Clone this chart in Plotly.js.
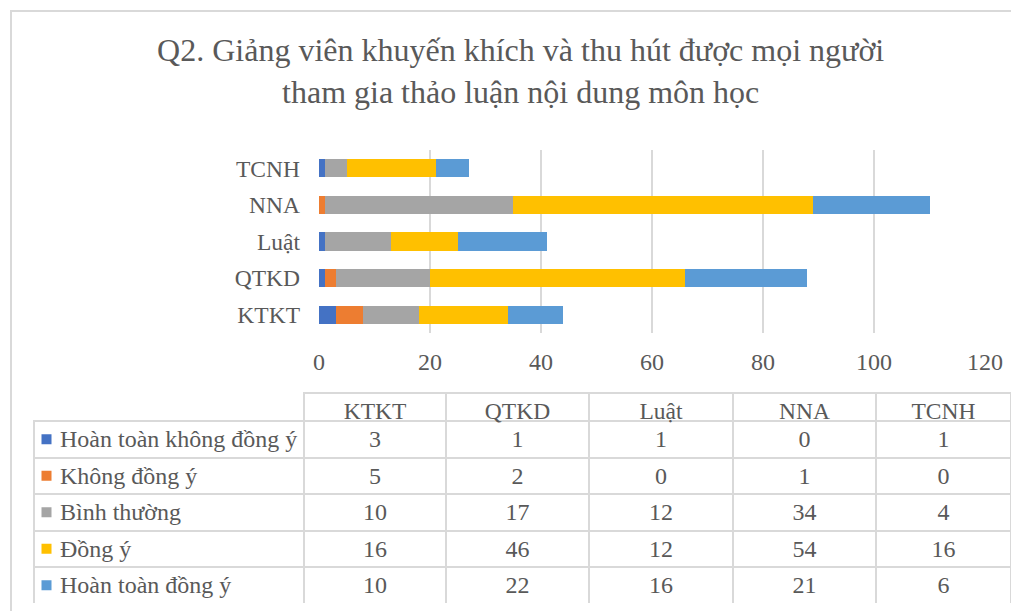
<!DOCTYPE html>
<html>
<head>
<meta charset="utf-8">
<script src="https://cdn.plot.ly/plotly-3.0.1.min.js"></script>
<style>html,body{margin:0;padding:0;background:#fff;}#chart{width:1011px;height:611px;}</style>
</head>
<body>
<div id="chart"></div>
<script>
const categories = ['KTKT', 'QTKD', 'Luật', 'NNA', 'TCNH'];
const seriesNames = ['Hoàn toàn không đồng ý', 'Không đồng ý', 'Bình thường', 'Đồng ý', 'Hoàn toàn đồng ý'];
const hoanToanKhongDongY = [3, 1, 1, 0, 1];
const khongDongY = [5, 2, 0, 1, 0];
const binhThuong = [10, 17, 12, 34, 4];
const dongY = [16, 46, 12, 54, 16];
const hoanToanDongY = [10, 22, 16, 21, 6];
const seriesValues = [hoanToanKhongDongY, khongDongY, binhThuong, dongY, hoanToanDongY];
const seriesColors = ['#4472C4', '#ED7D31', '#A5A5A5', '#FFC000', '#5B9BD5'];
const xTicks = [0, 20, 40, 60, 80, 100, 120];
const titleText = 'Q2. Giảng viên khuyến khích và thu hút được mọi người<br>tham gia thảo luận nội dung môn học';

const FONT = 'Liberation Serif';
const TXT = '#595959';
const W = 1011, H = 611;
const px = v => v / W;
const py = v => 1 - v / H;

const traces = seriesNames.map((name, i) => ({
  type: 'bar',
  orientation: 'h',
  name: name,
  y: categories,
  x: seriesValues[i],
  marker: { color: seriesColors[i], line: { width: 0 } },
  hoverinfo: 'x+name'
}));

// legend keys of the data table (on a hidden overlay axis)
traces.push({
  type: 'scatter',
  mode: 'markers',
  xaxis: 'x2', yaxis: 'y2',
  x: seriesNames.map(() => 0),
  y: seriesNames,
  marker: { symbol: 'square', size: 10, color: seriesColors, line: { width: 0 } },
  hoverinfo: 'skip'
});

// data table below the chart
const nb = '\u00a0';
const rowLabels = seriesNames.map(n => nb + nb + nb + n.split(' ').join(nb));
const tableColumns = [rowLabels].concat(categories.map((c, ci) => seriesValues.map(s => s[ci])));
const headerVals = [''].concat(categories);
const lineCol = '#d9d9d9';
const clear = 'rgba(255,255,255,0)';

traces.push({
  type: 'table',
  domain: { x: [px(34), 1], y: [py(604), py(393)] },
  columnwidth: [270, 142, 143, 144, 143, 135],
  header: {
    values: headerVals,
    height: 28,
    align: 'center',
    line: { color: [clear, lineCol, lineCol, lineCol, lineCol, lineCol], width: 2 },
    fill: { color: clear },
    font: { family: FONT, size: 23.5, color: TXT }
  },
  cells: {
    values: tableColumns,
    height: 36.5,
    align: ['left', 'center', 'center', 'center', 'center', 'center'],
    line: { color: lineCol, width: 2 },
    fill: { color: clear },
    font: { family: FONT, size: 24, color: TXT }
  }
});

const layout = {
  width: W, height: H,
  margin: { l: 0, r: 0, t: 0, b: 0 },
  paper_bgcolor: 'white',
  plot_bgcolor: 'rgba(0,0,0,0)',
  barmode: 'stack',
  bargap: 0.5,
  showlegend: false,
  font: { family: FONT, color: TXT },
  title: {
    text: titleText,
    font: { family: FONT, size: 32, color: TXT },
    x: 0.515, xanchor: 'center',
    y: py(61), yanchor: 'middle',
    yref: 'paper'
  },
  xaxis: {
    domain: [px(319), px(985)],
    range: [0, 120],
    tickvals: xTicks,
    showgrid: true,
    gridcolor: lineCol,
    gridwidth: 1.5,
    zeroline: false,
    showline: false,
    ticks: '',
    ticklabelstandoff: 12,
    tickfont: { family: FONT, size: 24, color: TXT },
    fixedrange: true
  },
  yaxis: {
    domain: [py(333), py(150)],
    type: 'category',
    categoryorder: 'array',
    categoryarray: categories,
    showgrid: false,
    zeroline: false,
    showline: false,
    ticks: '',
    ticklabelstandoff: 18,
    tickfont: { family: FONT, size: 23.5, color: TXT },
    fixedrange: true
  },
  xaxis2: {
    domain: [px(34), px(304)],
    range: [-12.5, 257.5],
    visible: false,
    fixedrange: true,
    anchor: 'y2'
  },
  yaxis2: {
    domain: [py(603.5), py(421)],
    type: 'category',
    categoryorder: 'array',
    categoryarray: seriesNames.slice().reverse(),
    range: [-0.5, 4.5],
    visible: false,
    fixedrange: true,
    anchor: 'x2'
  },
  shapes: [{
    type: 'rect', xref: 'paper', yref: 'paper',
    x0: px(11), x1: 1.2, y0: -0.2, y1: py(11),
    line: { color: lineCol, width: 2 },
    fillcolor: 'rgba(0,0,0,0)',
    layer: 'below'
  }]
};

Plotly.newPlot('chart', traces, layout, { displayModeBar: false, staticPlot: true });
</script>
</body>
</html>
